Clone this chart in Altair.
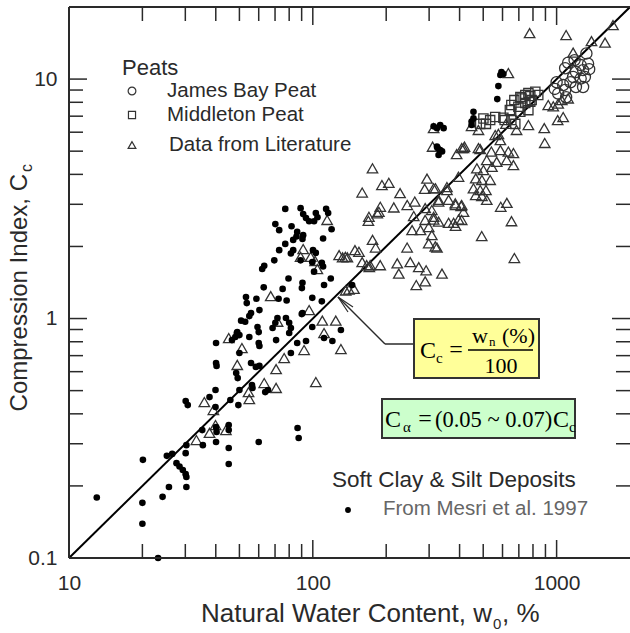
import altair as alt
import pandas as pd

# ---------------- data ----------------
mesri_w = [13.0, 20.1, 20.0, 20.0, 23.2, 24.2, 25.7, 25.2, 26.5, 27.6, 28.4, 29.3, 30.1, 30.3, 30.3,
           30.1, 30.3, 30.1, 30.7, 35.2, 35.4, 37.7, 39.9, 40.1, 40.1, 40.3, 39.9, 40.1, 40.3, 40.1,
           45.2, 45.2, 45.2, 45.2, 45.9, 49.5, 50.0, 48.5, 49.2, 50.0, 50.0, 49.0, 54.9, 60.0, 60.0,
           60.4, 55.8, 60.4, 56.3, 56.6, 63.8, 60.0, 70.7, 86.6, 87.5, 90.7, 80.0, 68.4, 81.3, 65.5,
           58.4, 99.5, 111.2, 120.3, 130.4, 77.1, 89.1, 91.3, 93.8, 96.6, 101.2, 104.5, 102.9, 70.2,
           72.8, 81.8, 86.3, 91.3, 83.1, 85.7, 90.7, 77.1, 72.8, 83.1, 81.3, 100.2, 69.5, 63.2, 62.0,
           89.1, 99.5, 101.2, 79.5, 90.7, 90.2, 62.9, 75.2, 53.2, 53.6, 58.7, 72.4, 78.1, 99.5, 60.4,
           55.8, 54.9, 71.6, 70.2, 77.6, 80.0, 81.3, 90.1, 50.8, 52.8, 59.3, 48.8, 48.1, 46.6, 86.3,
           93.8, 113.4, 115.6, 119.4, 110.2, 102.9, 108.9, 110.2, 118.5, 111.2, 108.9, 145.0,
           594, 588, 605, 577, 571, 456, 456, 448, 448, 313, 333, 323, 344, 323, 333, 328, 339, 325]
mesri_cc = [0.179, 0.257, 0.17, 0.139, 0.10, 0.18, 0.198, 0.267, 0.272, 0.249, 0.241, 0.233, 0.224, 0.218, 0.198,
            0.274, 0.296, 0.452, 0.435, 0.342, 0.296, 0.47, 0.503, 0.79, 0.652, 0.634, 0.427, 0.352, 0.336, 0.305,
            0.359, 0.342, 0.288, 0.247, 0.457, 0.435, 0.503, 0.592, 0.564, 0.718, 0.853, 0.878, 0.837, 0.878, 0.79,
            0.768, 0.652, 0.634, 0.528, 0.513, 0.493, 0.305, 0.813, 0.349, 0.317, 1.054, 0.87, 0.913, 0.718, 0.503,
            0.628, 0.922, 0.829, 0.806, 0.896, 2.87, 2.89, 2.73, 2.63, 2.55, 2.55, 2.65, 2.76, 2.48,
            2.34, 2.43, 2.30, 2.23, 2.13, 2.20, 2.15, 2.05, 1.93, 1.93, 1.87, 1.93, 1.75, 1.66, 1.61,
            1.75, 1.72, 1.57, 1.47, 1.41, 1.34, 1.35, 1.33, 1.23, 1.16, 1.21, 1.21, 1.19, 1.22, 1.085,
            1.054, 1.024, 1.005, 0.96, 1.005, 0.96, 0.913, 1.044, 0.98, 0.97, 0.922, 0.87, 0.837, 0.813, 0.79,
            0.806, 2.87, 2.76, 2.36, 2.16, 1.88, 1.71, 1.65, 1.47, 1.38, 1.18, 1.38,
            10.7, 10.4, 10.5, 9.35, 8.25, 7.3, 6.85, 6.65, 6.43, 6.35, 6.43, 6.24, 6.24, 5.22, 5.05, 4.82, 4.99, 5.15]

lit_w = [45.2, 51.2, 49.0, 35.9, 39.1, 39.9, 37.7, 44.0, 33.3, 54.5, 54.9, 63.2, 70.7, 70.7, 76.3, 92.1,
         96.6, 102.9, 109.4, 124.2, 130.4, 91.3, 89.1, 98.0, 102.2, 67.2, 71.7, 114.5, 104.4, 111.2,
         159.4, 169.9, 169.0, 183.8, 175.8, 132.5, 138.6, 148.9, 154.6, 159.4, 166.3, 170.5, 136.4, 147.5,
         175.7, 192.1, 205, 228, 294, 287.7, 318.5, 354.9, 189.1, 186.6, 214.9, 244, 262, 259.4, 289, 307.7,
         328.2, 360.6, 384, 406, 415, 289, 313, 328, 360.6, 378, 396, 255.4, 276.5, 298.8, 307.7, 298.8,
         323, 243.7, 181, 128.2, 136, 171.9, 189, 222, 251, 272, 291.6, 225.3, 338.7, 289, 265.7, 493,
         310, 389, 415, 478, 140.7, 448, 478, 419, 313,
         775, 1094, 1703, 1580, 1390, 1169, 634, 924, 969, 1015, 1050, 1115, 1064, 1010, 766, 890, 894,
         685, 560, 588, 408, 486, 540, 588, 634, 665, 517, 568, 624, 665, 471, 501, 543, 396, 466, 494,
         534, 456, 486, 513, 466, 494, 517, 313, 355, 328, 385, 408, 590, 625, 653, 671, 318, 385, 408,
         313, 577, 620]
lit_cc = [0.829, 0.753, 0.64, 0.448, 0.415, 0.359, 0.333, 0.342, 0.311, 0.493, 0.461, 0.538, 0.615, 0.513, 0.684, 0.739,
          1.085, 0.543, 0.98, 0.98, 0.746, 1.95, 1.81, 1.81, 1.74, 1.24, 0.97, 2.58, 1.61, 0.87,
          3.36, 2.66, 2.56, 2.75, 2.13, 1.80, 1.80, 1.93, 1.90, 1.72, 1.67, 1.64, 1.31, 1.33,
          4.24, 3.61, 3.69, 3.34, 3.84, 3.48, 3.50, 3.54, 2.93, 2.79, 2.91, 2.98, 3.08, 2.68, 2.89, 2.84,
          3.13, 3.13, 3.03, 2.95, 2.79, 2.58, 2.59, 2.54, 2.51, 2.51, 2.59, 2.34, 2.34, 2.41, 2.23, 2.06,
          1.98, 1.98, 1.98, 1.84, 1.81, 1.67, 1.67, 1.70, 1.72, 1.64, 1.59, 1.54, 1.54, 1.43, 1.38, 2.21,
          5.22, 4.86, 5.15, 5.15, 1.32, 6.37, 6.13, 5.22, 6.24,
          15.56, 15.27, 16.8, 14.2, 14.4, 12.9, 10.6, 7.79, 7.7, 7.9, 8.17, 8.3, 6.94, 6.74, 6.43, 6.24, 5.41,
          6.13, 5.84, 5.56, 5.15, 5.10, 4.98, 5.05, 4.98, 4.91, 4.59, 4.51, 4.59, 4.37, 4.24, 4.17, 4.30, 3.91, 3.85, 3.79,
          3.79, 3.50, 3.44, 3.44, 3.28, 3.25, 3.13, 3.50, 3.44, 3.08, 2.98, 2.98, 2.93, 3.04, 2.55, 1.79, 2.0, 2.44, 2.58,
          2.66, 5.9, 6.5]

mid_w = [501, 534, 605, 560, 486, 513, 652, 612, 677, 643, 710, 766, 652, 697, 744, 780, 671, 710,
         744, 780, 818, 841, 718, 766, 790]
mid_cc = [6.85, 6.74, 6.90, 6.94, 6.5, 6.5, 6.74, 6.74, 6.5, 7.42, 7.3, 7.42, 7.79, 7.67, 7.94, 8.05, 8.17, 8.41,
          8.58, 8.49, 8.85, 8.58, 8.3, 8.74, 8.17]

jb_w = [1325, 1115, 1185, 1255, 1346, 1084, 1200, 1284, 1169, 1255, 1000, 1064, 1140, 1084, 1200, 1284,
        983, 1094, 1015, 1360, 1306]
jb_cc = [12.8, 11.7, 12.0, 11.44, 11.6, 11.1, 10.7, 10.9, 10.2, 10.05, 9.7, 9.44, 9.7, 9.0, 9.27, 9.27,
         9.1, 8.4, 8.7, 11.0, 10.2]

line_w = [10, 2000]
line_cc = [0.1, 20]

x_major = [10, 100, 1000]
x_minor = [20, 30, 40, 50, 60, 70, 80, 90, 200, 300, 400, 500, 600, 700, 800, 900]
y_major = [0.1, 1, 10]
y_minor = [0.2, 0.3, 0.4, 0.5, 0.6, 0.7, 0.8, 0.9, 2, 3, 4, 5, 6, 7, 8, 9]

# ---------------- layout ----------------
W, H = 561, 551
SANS = "Liberation Sans"
SERIF = "Liberation Serif"
INK = "#2a2a2a"
MK = "#333333"

xscale = alt.Scale(type="log", domain=[10, 2000], nice=False)
yscale = alt.Scale(type="log", domain=[0.1, 20], nice=False)
xaxis = alt.Axis(values=x_major, format="~g", ticks=False, domain=False, grid=False, title=None,
                 labelFont=SANS, labelFontSize=21, labelColor=INK, labelPadding=14, labelFlush=False)
yaxis = alt.Axis(values=y_major, format="~g", ticks=False, domain=False, grid=False, title=None,
                 labelFont=SANS, labelFontSize=21, labelColor=INK, labelPadding=12, labelFlush=False)

one = pd.DataFrame({"k": [0]})


def X(f):
    return alt.X(f, type="quantitative", scale=xscale, axis=xaxis)


def Y(f):
    return alt.Y(f, type="quantitative", scale=yscale, axis=yaxis)


def points(w, c, shape, size, filled, color, sw=1.3):
    df = pd.DataFrame({"w": w, "cc": c})
    return alt.Chart(df).mark_point(shape=shape, size=size, filled=filled, color=color,
                                    strokeWidth=sw, opacity=1).encode(x=X("w"), y=Y("cc"))


layers = []

# 1:1 line
layers.append(alt.Chart(pd.DataFrame({"w": line_w, "cc": line_cc})).mark_line(
    color="#000", strokeWidth=2).encode(x=X("w"), y=Y("cc")))

# data
layers.append(points(lit_w, lit_cc, "triangle-up", 110, False, MK))
layers.append(points(mid_w, mid_cc, "square", 85, False, MK))
layers.append(points(jb_w, jb_cc, "circle", 125, False, MK))
layers.append(points(mesri_w, mesri_cc, "circle", 44, True, "#000"))


# inward ticks on all four sides
def xticks(vals, ln, top):
    ch = alt.Chart(pd.DataFrame({"v": vals})).mark_rule(color=INK, strokeWidth=1.5)
    if top:
        return ch.encode(x=X("v"), y=alt.value(0), y2=alt.value(ln))
    return ch.encode(x=X("v"), y=alt.value(H), y2=alt.value(H - ln))


def yticks(vals, ln, right):
    ch = alt.Chart(pd.DataFrame({"v": vals})).mark_rule(color=INK, strokeWidth=1.5)
    if right:
        return ch.encode(y=Y("v"), x=alt.value(W), x2=alt.value(W - ln))
    return ch.encode(y=Y("v"), x=alt.value(0), x2=alt.value(ln))


for top in (False, True):
    layers.append(xticks(x_major, 18, top))
    layers.append(xticks(x_minor, 14, top))
for right in (False, True):
    layers.append(yticks(y_major, 18, right))
    layers.append(yticks(y_minor, 14, right))

# frame (left, bottom, top)
fr = alt.Chart(one).mark_rule(color=INK, strokeWidth=2)
layers.append(fr.encode(x=alt.value(0), y=alt.value(0), y2=alt.value(H)))
layers.append(fr.encode(x=alt.value(0), x2=alt.value(W + 5), y=alt.value(H)))
layers.append(fr.encode(x=alt.value(0), x2=alt.value(W + 5), y=alt.value(0)))


def txt(s, x, y, size, font=SANS, color=INK, align="left", baseline="middle", angle=None):
    kw = dict(font=font, fontSize=size, color=color, align=align, baseline=baseline)
    if angle is not None:
        kw["angle"] = angle
    return alt.Chart(one).mark_text(**kw).encode(x=alt.value(x), y=alt.value(y), text=alt.value(s))


def seg(x1, y1, x2, y2, sw=1.5, color=INK):
    return alt.Chart(one).mark_rule(color=color, strokeWidth=sw).encode(
        x=alt.value(x1), y=alt.value(y1), x2=alt.value(x2), y2=alt.value(y2))


def sym(shape, x, y, size, filled, color=MK):
    return alt.Chart(one).mark_point(shape=shape, size=size, filled=filled, color=color,
                                     strokeWidth=1.2, opacity=1).encode(x=alt.value(x), y=alt.value(y))


# axis titles
layers.append(txt("Compression Index, C", -42, 167, 24, align="right", baseline="alphabetic", angle=270))
layers.append(txt("c", -37, 165, 16, align="left", baseline="alphabetic", angle=270))
layers.append(txt("Natural Water Content, w", 423, 615, 26, align="right", baseline="alphabetic"))
layers.append(txt("0", 424, 622, 15, align="left", baseline="alphabetic"))
layers.append(txt(", %", 433, 615, 26, align="left", baseline="alphabetic"))

# peats legend
layers.append(txt("Peats", 53, 61, 22))
layers.append(sym("circle", 63, 84, 60, False))
layers.append(sym("square", 63, 108, 50, False))
layers.append(sym("triangle-up", 63, 138, 60, False))
layers.append(txt("James Bay Peat", 98, 84, 20.5))
layers.append(txt("Middleton Peat", 98, 108, 20.5))
layers.append(txt("Data from Literature", 100, 138, 20.5))

# soft clay legend
layers.append(txt("Soft Clay & Silt Deposits", 263, 473, 22.5))
layers.append(sym("circle", 279, 503, 34, True, "#000"))
layers.append(txt("From Mesri et al. 1997", 314, 502, 20.5, color="#666"))

# arrow to the line
layers.append(seg(345, 337, 316, 337))
layers.append(seg(316, 337, 269, 290))
layers.append(seg(269, 290, 284, 300, sw=1.2))
layers.append(seg(269, 290, 279, 305, sw=1.2))

# yellow box: Cc = wn(%)/100
layers.append(alt.Chart(one).mark_rect(fill="#FFFF99", stroke="#333", strokeWidth=2).encode(
    x=alt.value(345), x2=alt.value(470), y=alt.value(312), y2=alt.value(371)))
layers.append(txt("C", 351, 351, 24, font=SERIF, color="#000", baseline="alphabetic"))
layers.append(txt("c", 367, 356, 15, font=SERIF, color="#000", baseline="alphabetic"))
layers.append(txt("=", 387, 350, 24, font=SERIF, color="#000", align="center", baseline="alphabetic"))
layers.append(txt("w", 403, 336, 22, font=SERIF, color="#000", baseline="alphabetic"))
layers.append(txt("n", 420, 339, 13, font=SERIF, color="#000", baseline="alphabetic"))
layers.append(txt("(%)", 433, 336, 22, font=SERIF, color="#000", baseline="alphabetic"))
layers.append(seg(399, 343, 464, 343, sw=1.5, color="#000"))
layers.append(txt("100", 432, 366, 22, font=SERIF, color="#000", align="center", baseline="alphabetic"))

# green box: C_alpha = (0.05 ~ 0.07) Cc
layers.append(alt.Chart(one).mark_rect(fill="#CCFFCC", stroke="#333", strokeWidth=2).encode(
    x=alt.value(313), x2=alt.value(506), y=alt.value(392), y2=alt.value(431)))
layers.append(txt("C", 316, 420, 24, font=SERIF, color="#000", baseline="alphabetic"))
layers.append(txt("α", 334, 425, 15, font=SERIF, color="#000", baseline="alphabetic"))
layers.append(txt("=", 356, 419, 24, font=SERIF, color="#000", align="center", baseline="alphabetic"))
layers.append(txt("(0.05 ~ 0.07)", 366, 420, 22.5, font=SERIF, color="#000", baseline="alphabetic"))
layers.append(txt("C", 484, 420, 24, font=SERIF, color="#000", baseline="alphabetic"))
layers.append(txt("c", 500, 425, 15, font=SERIF, color="#000", baseline="alphabetic"))

chart = alt.layer(*layers).properties(
    width=W, height=H,
    autosize=alt.AutoSizeParams(type="none"),
    padding={"left": 69, "top": 7, "right": 0, "bottom": 75},
).configure_view(stroke=None).configure(background="white")

chart.save("out.html", embed_options={"renderer": "svg", "actions": False})
